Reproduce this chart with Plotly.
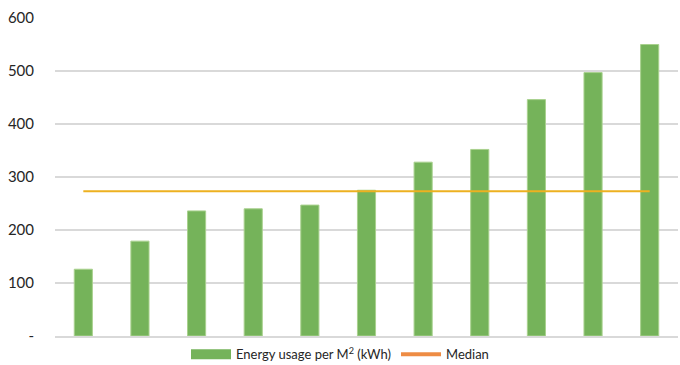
import plotly.graph_objects as go

# buildings, sorted by energy usage
buildings = ["B1", "B2", "B3", "B4", "B5", "B6", "B7", "B8", "B9", "B10", "B11"]
energy_per_m2 = [126, 179, 236, 240, 247, 275, 328, 352, 446, 497, 550]
median_value = [273] * len(buildings)

tick_vals = [0, 100, 200, 300, 400, 500, 600]
tick_text = ["-", "100", "200", "300", "400", "500", "600"]

GREEN = "#75B35A"
GOLD = "#EDB120"
ORANGE = "#EE8C44"

fig = go.Figure()
fig.add_trace(go.Bar(x=buildings, y=energy_per_m2, marker=dict(color=GREEN, line=dict(color="#A9D18E", width=1)),
                     showlegend=False))
fig.add_trace(go.Scatter(x=buildings, y=median_value, mode="lines", line=dict(color=GOLD, width=2),
                         showlegend=False))
# legend entries
fig.add_trace(go.Scatter(x=[None], y=[None], mode="lines", line=dict(color=GREEN, width=10),
                         name="Energy usage per M<sup>2</sup> (kWh)"))
fig.add_trace(go.Scatter(x=[None], y=[None], mode="lines", line=dict(color=ORANGE, width=4), name="Median"))

fig.update_layout(
    width=680, height=365,
    margin=dict(l=55, r=2, t=18, b=29, autoexpand=False),
    plot_bgcolor="white", paper_bgcolor="white",
    font=dict(family="Lato", color="#262626"),
    bargap=0.68,
    legend=dict(orientation="h", xref="container", x=0.5, xanchor="center", y=-0.01, yanchor="top",
                font=dict(size=13, color="#262626"), itemwidth=40, tracegroupgap=0),
)
fig.update_xaxes(showticklabels=False, showgrid=False, showline=True, linecolor="#d9d9d9", linewidth=1.5)
fig.update_yaxes(range=[0, 600], tickvals=tick_vals, ticktext=tick_text, showgrid=True,
                 gridcolor="#d9d9d9", gridwidth=1.5, zeroline=False, tickfont=dict(size=15, color="#262626"),
                 ticklabelstandoff=20)

fig.write_html("out.html", config={"displayModeBar": False},
               post_script="document.body.style.margin='0';document.body.style.overflow='hidden';")
